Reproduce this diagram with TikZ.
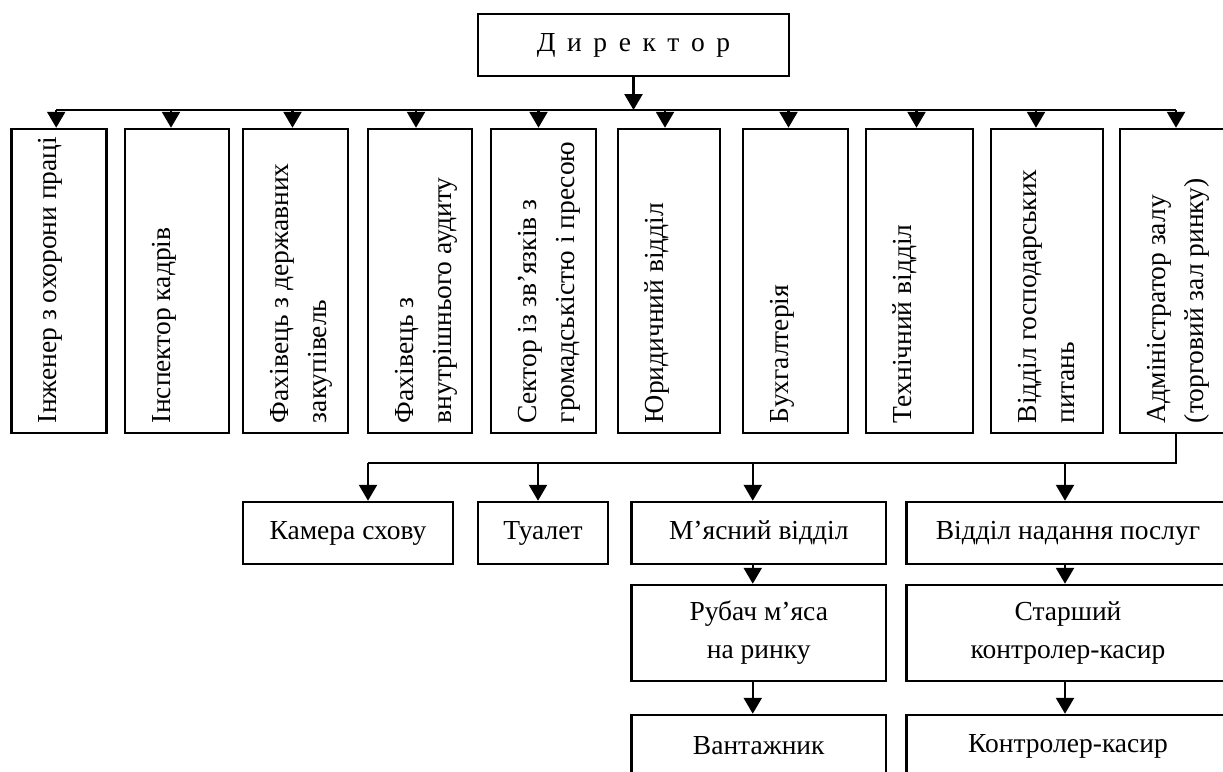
\documentclass[tikz,border=0pt]{standalone}
\usepackage{fontspec}
\setmainfont{Liberation Serif}
\usetikzlibrary{arrows.meta}

\begin{document}
\begin{tikzpicture}[x=1pt,y=-1pt,
    box/.style={draw, line width=2.5pt, inner sep=0pt},
    htext/.style={font=\fontsize{27.5}{38}\selectfont, align=center},
    vtext/.style={rotate=90, anchor=north west, align=left, inner sep=0pt, font=\fontsize{27.5}{38}\selectfont},
    ln/.style={line width=2.5pt},
    arr/.style={line width=2.5pt, -{Triangle[length=16pt,width=18pt]}}]
      \useasboundingbox (0,0) rectangle (1223,771);
      \clip (0,0) rectangle (1223,771);
      \node[box, htext, minimum width=311pt, minimum height=62pt] (dir) at (633.5,45) {\spaceskip=0.42em Д и р е к т о р};
      \node[box, minimum width=95pt, minimum height=304pt] (inzh) at (59.2,281) {};
      \node[box, minimum width=104pt, minimum height=304pt] (kadry) at (177,281) {};
      \node[box, minimum width=105pt, minimum height=304pt] (zakup) at (295.5,281) {};
      \node[box, minimum width=104pt, minimum height=304pt] (audyt) at (420,281) {};
      \node[box, minimum width=105pt, minimum height=304pt] (sektor) at (543.5,281) {};
      \node[box, minimum width=102pt, minimum height=304pt] (yuryd) at (669,281) {};
      \node[box, minimum width=105pt, minimum height=304pt] (bukh) at (795.5,281) {};
      \node[box, minimum width=107pt, minimum height=304pt] (tekhn) at (919.5,281) {};
      \node[box, minimum width=112pt, minimum height=304pt] (hosp) at (1047,281) {};
      \node[box, minimum width=112pt, minimum height=304pt] (admin) at (1176,281) {};
      \node[vtext] (inzh-t) at ([shift={(28,-11)}]inzh.south west) {Інженер з охорони праці};
      \node[vtext] (kadry-t) at ([shift={(28,-11)}]kadry.south west) {Інспектор кадрів};
      \node[vtext] (zakup-t) at ([shift={(28,-11)}]zakup.south west) {Фахівець з державних\\закупівель};
      \node[vtext] (audyt-t) at ([shift={(28,-11)}]audyt.south west) {Фахівець з\\внутрішнього аудиту};
      \node[vtext] (sektor-t) at ([shift={(28,-11)}]sektor.south west) {Сектор із зв’язків з\\громадськістю і пресою};
      \node[vtext] (yuryd-t) at ([shift={(28,-11)}]yuryd.south west) {Юридичний відділ};
      \node[vtext] (bukh-t) at ([shift={(28,-11)}]bukh.south west) {Бухгалтерія};
      \node[vtext] (tekhn-t) at ([shift={(28,-11)}]tekhn.south west) {Технічний відділ};
      \node[vtext] (hosp-t) at ([shift={(28,-11)}]hosp.south west) {Відділ господарських\\питань};
      \node[vtext] (admin-t) at ([shift={(28,-11)}]admin.south west) {Адміністратор залу\\(торговий зал ринку)};
      \node[box, htext, minimum width=210pt, minimum height=62pt] (kamera) at (348,533) {Камера схову};
      \node[box, htext, minimum width=130pt, minimum height=62pt] (tualet) at (543,533) {Туалет};
      \node[box, htext, minimum width=254.5pt, minimum height=62pt] (myaso) at (758.75,533) {М’ясний відділ};
      \node[box, htext, minimum width=323pt, minimum height=62pt] (posluhy) at (1068,533) {Відділ надання послуг};
      \node[box, htext, minimum width=254.5pt, minimum height=96pt] (rubach) at (758.75,633) {Рубач м’яса\\на ринку};
      \node[box, htext, minimum width=323pt, minimum height=96pt] (starsh) at (1068,633) {Старший\\контролер-касир};
      \node[box, htext, minimum width=254.5pt, minimum height=62pt] (vantazh) at (758.75,746) {Вантажник};
      \node[box, htext, minimum width=323pt, minimum height=62pt] (kasyr) at (1068,746) {Контролер-касир};
      \coordinate (bus) at (633.5,110);
      \coordinate (bus2) at (1176,463);
      \draw[arr] (dir) -- (dir |- bus);
      \draw[ln] ([xshift=-3pt]inzh.north |- bus) -- (admin.north |- bus);
      \draw[arr] ([xshift=-3pt]inzh.north |- bus) -- ([xshift=-3pt]inzh.north);
      \draw[arr] ([xshift=-6pt]kadry.north |- bus) -- ([xshift=-6pt]kadry.north);
      \draw[arr] ([xshift=-3pt]zakup.north |- bus) -- ([xshift=-3pt]zakup.north);
      \draw[arr] ([xshift=-4pt]audyt.north |- bus) -- ([xshift=-4pt]audyt.north);
      \draw[arr] ([xshift=-5pt]sektor.north |- bus) -- ([xshift=-5pt]sektor.north);
      \draw[arr] ([xshift=-4pt]yuryd.north |- bus) -- ([xshift=-4pt]yuryd.north);
      \draw[arr] ([xshift=-7pt]bukh.north |- bus) -- ([xshift=-7pt]bukh.north);
      \draw[arr] ([xshift=-3pt]tekhn.north |- bus) -- ([xshift=-3pt]tekhn.north);
      \draw[arr] ([xshift=-11pt]hosp.north |- bus) -- ([xshift=-11pt]hosp.north);
      \draw[arr] (admin.north |- bus) -- (admin.north);
      \draw[ln] (admin.south) -- (admin.south |- bus2) -- ([xshift=20pt]kamera.north |- bus2);
      \draw[arr] ([xshift=20pt]kamera.north |- bus2) -- ([xshift=20pt]kamera.north);
      \draw[arr] ([xshift=-5pt]tualet.north |- bus2) -- ([xshift=-5pt]tualet.north);
      \draw[arr] ([xshift=-6pt]myaso.north |- bus2) -- ([xshift=-6pt]myaso.north);
      \draw[arr] ([xshift=-3pt]posluhy.north |- bus2) -- ([xshift=-3pt]posluhy.north);
      \draw[arr] ([xshift=-6pt]myaso.south) -- ([xshift=-6pt]rubach.north);
      \draw[arr] ([xshift=-6pt]rubach.south) -- ([xshift=-6pt]vantazh.north);
      \draw[arr] ([xshift=-3pt]posluhy.south) -- ([xshift=-3pt]starsh.north);
      \draw[arr] ([xshift=-3pt]starsh.south) -- ([xshift=-3pt]kasyr.north);
\end{tikzpicture}
\end{document}
